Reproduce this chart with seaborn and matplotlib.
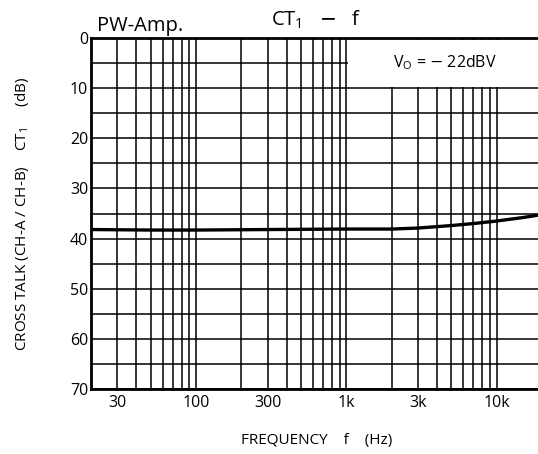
import numpy as np
import pandas as pd
import seaborn as sns
import matplotlib.pyplot as plt
from matplotlib.ticker import FixedLocator, NullFormatter, MultipleLocator
from matplotlib.patches import Rectangle

# values
freq_hz = [20, 50, 100, 300, 1000, 2000, 3000, 5000, 7000, 10000, 15000, 20000]
crosstalk_db = [38.2, 38.3, 38.3, 38.2, 38.1, 38.1, 37.9, 37.4, 37.0, 36.5, 35.8, 35.2]
xtick_vals = [30, 100, 300, 1000, 3000, 10000]
xtick_labels = ['30', '100', '300', '1k', '3k', '10k']
ytick_vals = [0, 10, 20, 30, 40, 50, 60, 70]

sns.set_style('white')
plt.rcParams['font.family'] = ['Open Sans', 'DejaVu Sans']
plt.rcParams.update({'text.color': 'black', 'axes.labelcolor': 'black',
                     'xtick.color': 'black', 'ytick.color': 'black'})

df = pd.DataFrame({'f': freq_hz, 'ct': crosstalk_db})

fig = plt.figure(figsize=(5.38, 4.54), dpi=100)
ax = fig.add_axes([91 / 538, 1 - 389 / 454, 451 / 538, 351 / 454])

sns.lineplot(data=df, x='f', y='ct', ax=ax, color='black', linewidth=2.4, zorder=4)

ax.set_xscale('log')
ax.set_xlim(20, 20000)
ax.set_ylim(70, 0)

# grid: every 1-2-...-9 of each decade, every 5 dB
grid_x = [m * 10 ** e for e in range(1, 5) for m in range(1, 10)]
grid_x = [g for g in grid_x if 20 <= g <= 20000]
ax.xaxis.set_major_locator(FixedLocator(xtick_vals))
ax.set_xticklabels(xtick_labels)
ax.xaxis.set_minor_locator(FixedLocator(grid_x))
ax.xaxis.set_minor_formatter(NullFormatter())
ax.set_yticks(ytick_vals)
ax.yaxis.set_minor_locator(MultipleLocator(5))
ax.set_axisbelow(True)
ax.grid(which='both', axis='both', color='black', linewidth=1.1)

ax.tick_params(which='both', length=0, labelsize=11.5, pad=4)
ax.tick_params(axis='y', pad=2)

for s in ['left', 'bottom', 'top']:
    ax.spines[s].set_linewidth(2)
    ax.spines[s].set_color('black')
ax.spines['right'].set_visible(False)

# blank box for the condition note
ax.add_patch(Rectangle((1030, 0.4), 30000, 9.3, facecolor='white', edgecolor='none', zorder=1))
ax.text(4500, 5, r'V$_\mathregular{O}$ = $-$ 22dBV', ha='center', va='center', fontsize=11.5, zorder=5)

ax.set_xlabel('FREQUENCY    f    (Hz)', fontsize=11, labelpad=16)
ax.set_ylabel(r'CROSS TALK (CH-A / CH-B)    CT$_\mathregular{1}$     (dB)', fontsize=11, labelpad=28)

fig.text(97 / 538, 1 - 31 / 454, 'PW-Amp.', fontsize=14.5, ha='left', va='baseline')
fig.text(316 / 538, 1 - 26 / 454, r'CT$_\mathregular{1}$   $-$   f', fontsize=14.5, ha='center', va='baseline')

fig.savefig('out.png', dpi=100)
